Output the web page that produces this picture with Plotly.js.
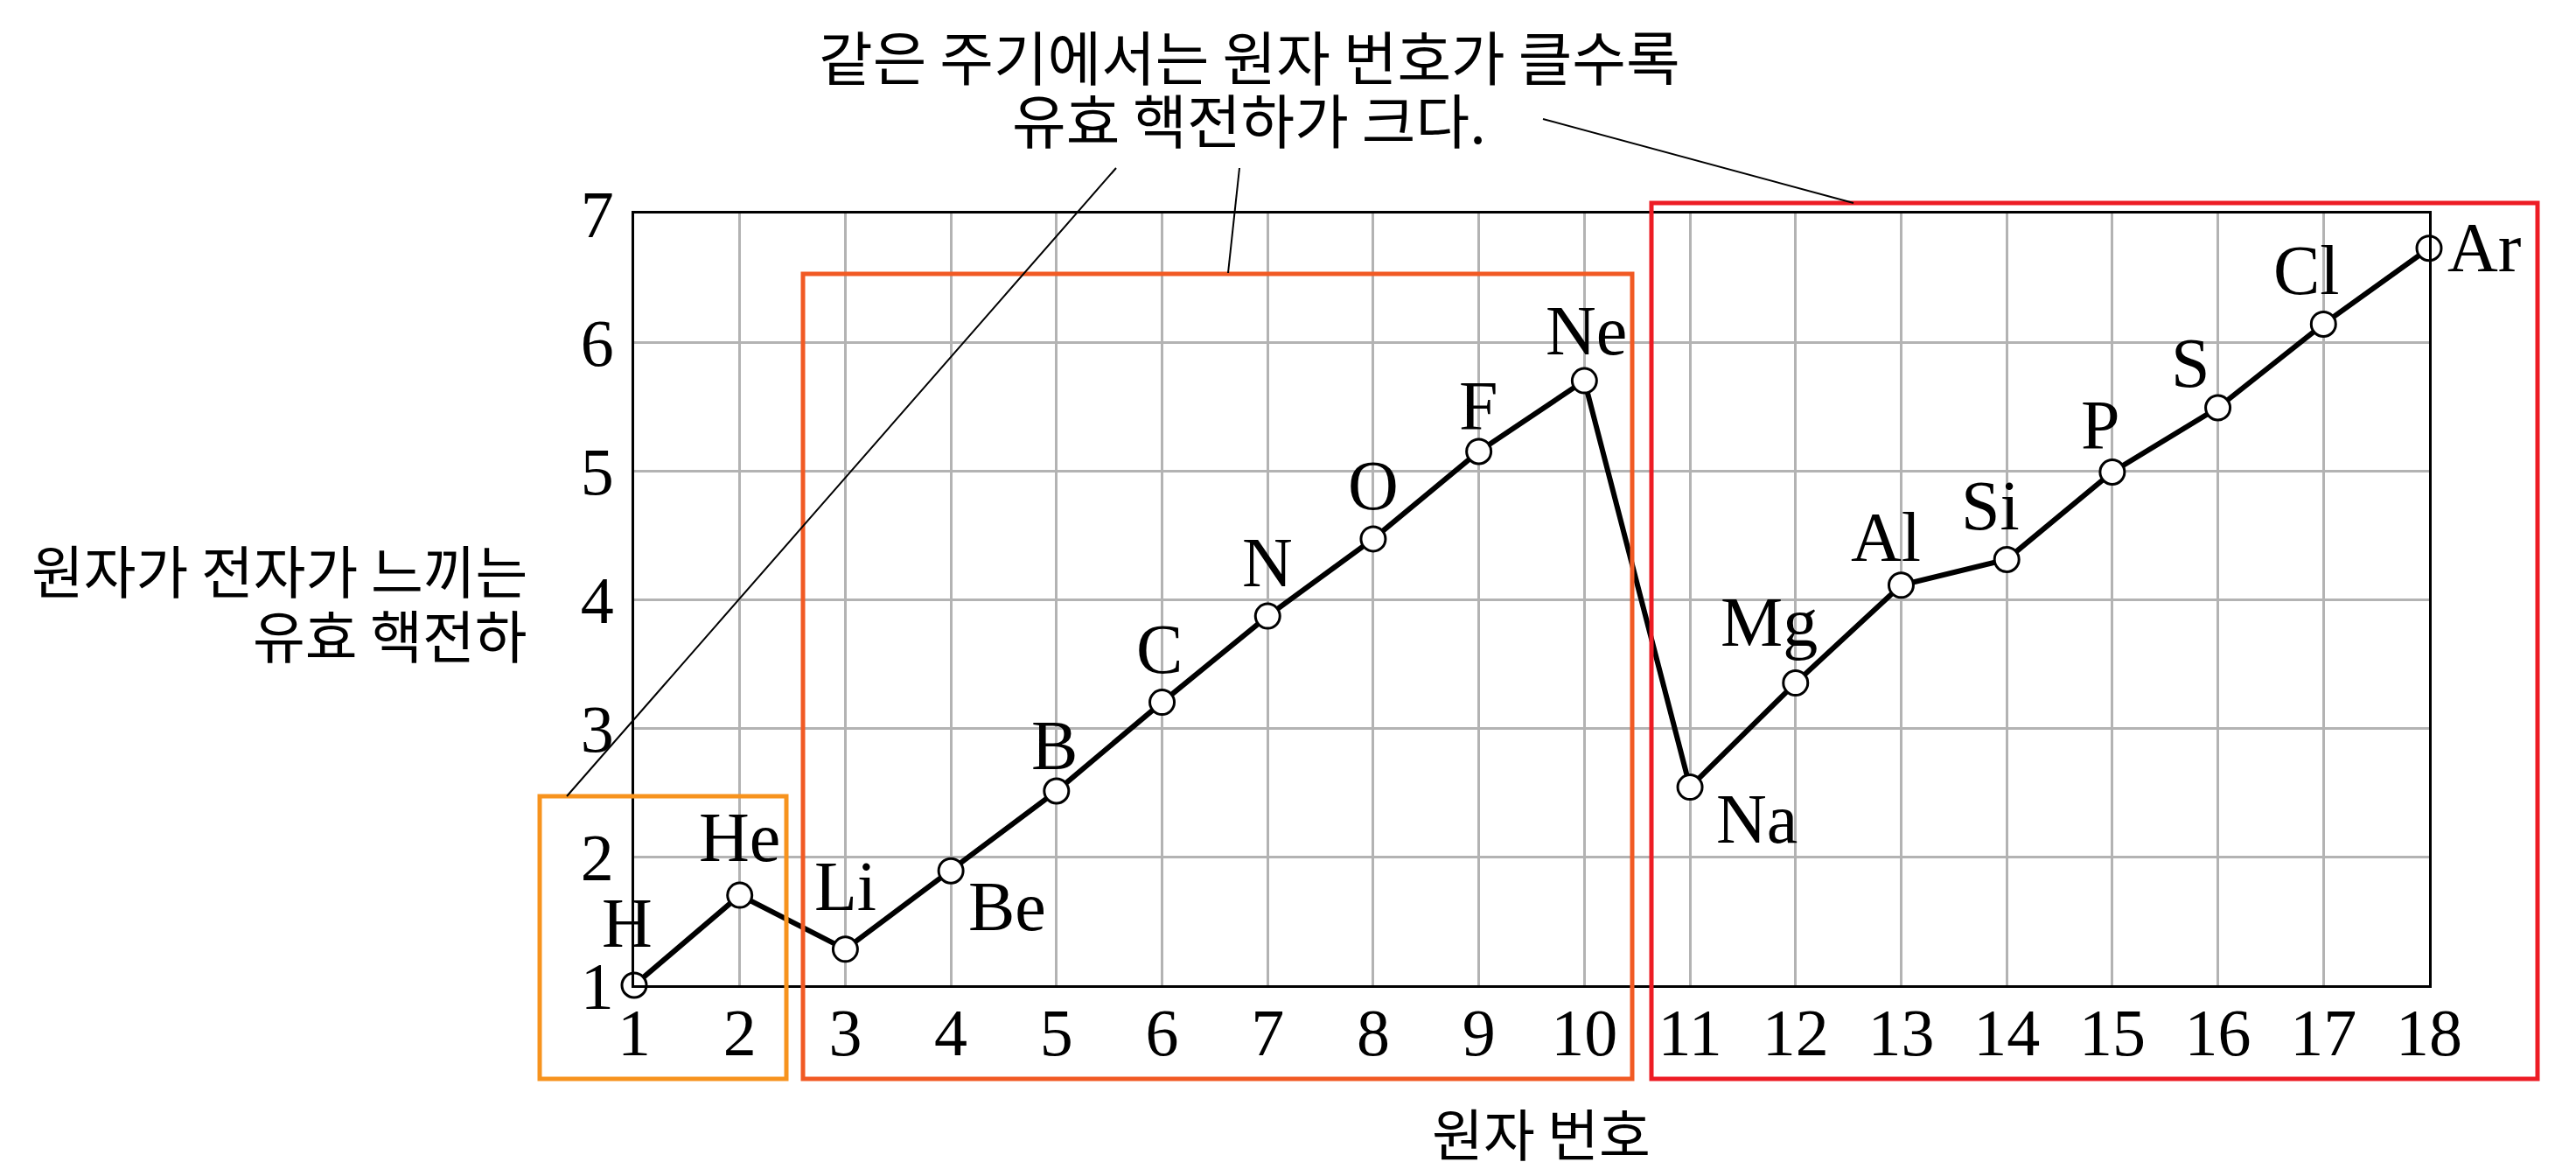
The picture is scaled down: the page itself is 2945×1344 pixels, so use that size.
<!DOCTYPE html>
<html>
<head>
<meta charset="utf-8">
<script src="https://cdn.plot.ly/plotly-3.0.1.min.js"></script>
<style>html,body{margin:0;padding:0;background:#fff;}</style>
</head>
<body>
<div id="chart" style="width:2945px;height:1344px;"></div>
<script>
// ---- data ----
const atomicNumbers = [1,2,3,4,5,6,7,8,9,10,11,12,13,14,15,16,17,18];
const elements = ["H","He","Li","Be","B","C","N","O","F","Ne","Na","Mg","Al","Si","P","S","Cl","Ar"];
const zeff = [1.00,1.70,1.28,1.89,2.51,3.20,3.87,4.47,5.15,5.70,2.54,3.35,4.11,4.31,4.99,5.49,6.14,6.73];
const xTicks = [1,2,3,4,5,6,7,8,9,10,11,12,13,14,15,16,17,18];
const yTicks = [1,2,3,4,5,6,7];
const xTitle = "원자 번호";
const yTitleLines = ["원자가 전자가 느끼는", "유효 핵전하"];
const noteLines = ["같은 주기에서는 원자 번호가 클수록", "유효 핵전하가 크다."];

// ---- layout helpers (pixel geometry of the figure) ----
const W = 2945, H = 1344;
const PL = 725, PR = 2777, PT = 244, PB = 1126;
const px = v => (v - PL) / (PR - PL);
const py = v => (PB - v) / (PB - PT);

// label offsets (pixels, screen: dx right, dy down)
const labelOffsets = {
  H:[-8,-67], He:[0,-62], Li:[0,-68], Be:[64,45], B:[-2,-48], C:[-3,-57],
  N:[0,-57], O:[0,-57], F:[0,-48], Ne:[2,-53], Na:[76,40], Mg:[-30,-66],
  Al:[-17,-51], Si:[-19,-57], P:[-13,-49], S:[-31,-47], Cl:[-19,-57], Ar:[63,3]
};

const serif = "Liberation Serif, Times New Roman, serif";
const kfont = "Noto Sans CJK KR, sans-serif";

const trace = {
  x: atomicNumbers, y: zeff, type: 'scatter', mode: 'lines+markers',
  line: {color: '#000', width: 6},
  marker: {size: 28, color: '#fff', line: {color: '#000', width: 3}},
  cliponaxis: false, hoverinfo: 'skip', showlegend: false
};

const annotations = elements.map((el, i) => ({
  x: atomicNumbers[i], y: zeff[i], xref: 'x', yref: 'y', text: el, showarrow: false,
  xanchor: 'center', yanchor: 'middle',
  xshift: labelOffsets[el][0], yshift: -labelOffsets[el][1] + 4,
  font: {family: serif, size: 80, color: '#000'}
}));

annotations.push(
  {xref:'paper', yref:'paper', x: px(1428), y: py(62), text: noteLines[0], showarrow:false,
   xanchor:'center', yanchor:'middle', font:{family:kfont, size:67, color:'#000'}},
  {xref:'paper', yref:'paper', x: px(1428), y: py(135), text: noteLines[1], showarrow:false,
   xanchor:'center', yanchor:'middle', font:{family:kfont, size:67, color:'#000'}},
  {xref:'paper', yref:'paper', x: px(605), y: py(650), text: yTitleLines[0], showarrow:false,
   xanchor:'right', yanchor:'middle', font:{family:kfont, size:65, color:'#000'}},
  {xref:'paper', yref:'paper', x: px(605), y: py(724), text: yTitleLines[1], showarrow:false,
   xanchor:'right', yanchor:'middle', font:{family:kfont, size:65, color:'#000'}},
  {xref:'paper', yref:'paper', x: px(1762), y: py(1293), text: xTitle, showarrow:false,
   xanchor:'center', yanchor:'middle', font:{family:kfont, size:64, color:'#000'}}
);

const box = (x0, y0, x1, y1, color) => ({
  type:'rect', xref:'paper', yref:'paper', x0: px(x0), x1: px(x1), y0: py(y0), y1: py(y1),
  line:{color: color, width: 5}, fillcolor:'rgba(0,0,0,0)', layer:'above'
});
const seg = (x0, y0, x1, y1) => ({
  type:'line', xref:'paper', yref:'paper', x0: px(x0), x1: px(x1), y0: py(y0), y1: py(y1),
  line:{color:'#000', width: 2}, layer:'above'
});

const shapes = [
  box(617, 910, 899, 1233, '#F7931E'),
  box(918, 313, 1866, 1233, '#F15A24'),
  box(1888, 232, 2901, 1233, '#ED1C24'),
  seg(648, 910, 1276, 192),
  seg(1404, 312, 1417, 192),
  seg(1764, 136, 2119, 232)
];

const layout = {
  width: W, height: H,
  margin: {l: PL, r: W - PR, t: PT, b: H - PB, pad: 0},
  paper_bgcolor: '#fff', plot_bgcolor: '#fff',
  xaxis: {
    range: [1, 18], tickvals: xTicks, ticktext: xTicks.map(String),
    showgrid: true, gridcolor: '#b3b3b3', gridwidth: 3, zeroline: false,
    showline: true, linecolor: '#000', linewidth: 3, mirror: true,
    ticks: '', ticklabelstandoff: -14,
    tickfont: {family: serif, size: 76, color: '#000'}, fixedrange: true
  },
  yaxis: {
    range: [1, 7], tickvals: yTicks, ticktext: yTicks.map(String),
    showgrid: true, gridcolor: '#b3b3b3', gridwidth: 3, zeroline: false,
    showline: true, linecolor: '#000', linewidth: 3, mirror: true,
    ticks: '', ticklabelstandoff: 5,
    tickfont: {family: serif, size: 76, color: '#000'}, fixedrange: true
  },
  annotations: annotations,
  shapes: shapes,
  showlegend: false
};

Plotly.newPlot('chart', [trace], layout, {staticPlot: true, displayModeBar: false});
</script>
</body>
</html>
